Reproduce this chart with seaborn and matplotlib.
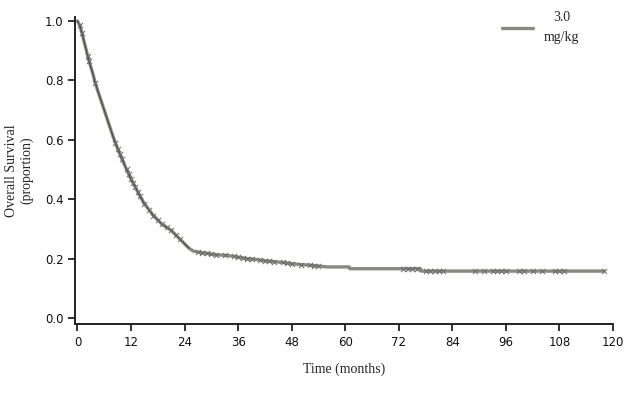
import numpy as np
import pandas as pd
import seaborn as sns
import matplotlib.pyplot as plt

# Kaplan-Meier estimate (months, proportion)
time_months = [0, 0.5, 1, 1.5, 2, 2.5, 3, 3.5, 4, 5, 6, 7, 8, 9, 10, 11, 12, 13, 14,
               15, 16, 17, 18, 19, 20, 21, 22, 23, 24, 25, 26, 27, 28, 30, 32, 34,
               36, 38, 40, 42, 44, 46, 48, 50, 52, 54, 56, 60.9, 61, 76.9, 77, 118]
survival = [1.0, 0.985, 0.96, 0.93, 0.90, 0.87, 0.845, 0.82, 0.79, 0.745, 0.70,
            0.655, 0.61, 0.57, 0.535, 0.50, 0.468, 0.44, 0.41, 0.385, 0.365,
            0.345, 0.33, 0.315, 0.305, 0.295, 0.28, 0.265, 0.25, 0.235, 0.225,
            0.222, 0.22, 0.215, 0.212, 0.21, 0.205, 0.2, 0.197, 0.193, 0.19,
            0.187, 0.183, 0.18, 0.178, 0.175, 0.172, 0.172, 0.166, 0.166, 0.158,
            0.158]

# censored observations
censor_t = [0.5, 1, 2.3, 2.6, 4, 8.5, 9, 9.5, 10, 11, 11.5, 12, 12.5, 13, 13.5, 14,
            15, 16, 17, 18, 19, 20, 21, 22, 23, 27, 28, 29, 30, 31, 33, 35, 36,
            37, 38, 39, 41, 42, 43, 44, 46, 47, 48, 50, 52, 53, 54,
            73, 74, 75, 76, 78, 79, 80, 81, 82, 89, 91, 93, 94, 95, 96, 99, 100,
            102, 104, 107, 108, 109, 118]

legend_label = '3.0\nmg/kg'
line_color = '#868a7e'


km = pd.DataFrame({'time': time_months, 'surv': survival})
cens = pd.DataFrame({'time': censor_t,
                     'surv': np.interp(censor_t, time_months, survival)})

sns.set_style('ticks')
fig = plt.figure(figsize=(6.32, 3.93), dpi=100)
ax = fig.add_axes([0.119, 0.1756, 0.851, 0.781])

sns.lineplot(data=km, x='time', y='surv', color=line_color,
             lw=2.4, ax=ax, label=legend_label)
sns.lineplot(data=km[km.time < 26], x='time', y='surv', color='#3a3a3a',
             lw=0.6, ax=ax)
sns.scatterplot(data=cens, x='time', y='surv', marker='x', color='#6a6a6a', s=14,
                linewidth=0.7, ax=ax, legend=False, zorder=3)

ax.set_xlim(-0.5, 120)
ax.set_ylim(-0.02, 1.013)
ax.set_xticks(np.arange(0, 121, 12))
ax.set_yticks(np.arange(0, 1.01, 0.2))
ax.set_yticklabels([f'{v:.1f}' for v in np.arange(0, 1.01, 0.2)])
ax.tick_params(direction='out', length=5, width=1.2, labelsize=8.5, colors='#111111')
for side in ['left', 'bottom']:
    ax.spines[side].set_linewidth(1.4)
    ax.spines[side].set_color('#222222')
sns.despine(ax=ax)

serif = ['Liberation Serif', 'DejaVu Serif']
ax.set_xlabel('Time (months)', family=serif, fontsize=10, labelpad=10)
ax.set_ylabel('Overall Survival\n(proportion)', family=serif, fontsize=10, labelpad=8)

leg = ax.legend(loc='upper right', frameon=False, handlelength=2.2,
                prop={'family': serif, 'size': 10}, bbox_to_anchor=(0.96, 1.06))
for txt in leg.get_texts():
    txt.set_multialignment('center')
    txt.set_linespacing(1.7)

fig.savefig('out.png', dpi=100)
